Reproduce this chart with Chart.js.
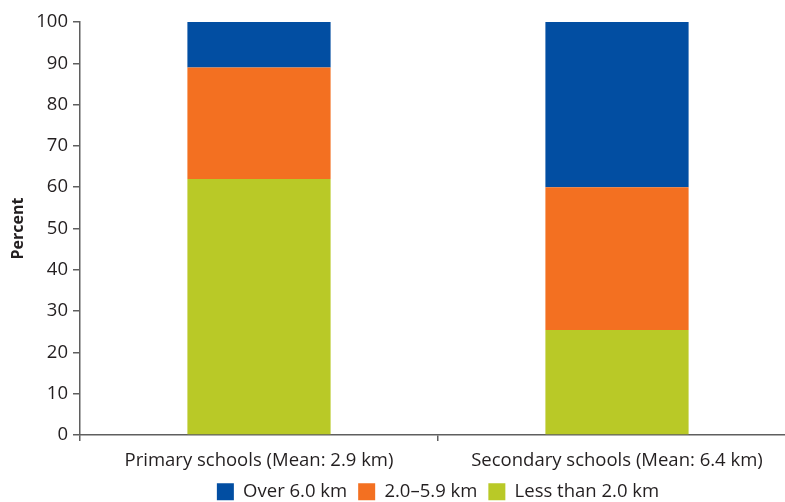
<!DOCTYPE html>
<html>
<head>
<meta charset="utf-8">
<script src="https://cdn.jsdelivr.net/npm/chart.js@4/dist/chart.umd.min.js"></script>
<style>
html,body{margin:0;padding:0;background:#fff;overflow:hidden;width:785px;height:502px;}
#wrap{position:relative;width:798px;height:502px;}
</style>
</head>
<body>
<div id="wrap"><canvas id="c" width="798" height="502"></canvas></div>
<script>
const categories = ["Primary schools (Mean: 2.9 km)", "Secondary schools (Mean: 6.4 km)"];
const lessThan2 = [62, 25.4];
const from2to59 = [27, 34.6];
const over6 = [11, 40];
const yTicks = [0, 10, 20, 30, 40, 50, 60, 70, 80, 90, 100];

const FONT = "'Open Sans', 'Noto Sans', sans-serif";
const TXT = "#231f20";
const AX = "#5f5f5f";

// center the legend under the plot area rather than the whole canvas
const legendShift = {
  id: 'legendShift',
  afterLayout(chart) {
    if (chart.legend) {
      chart.legend.left = chart.chartArea.left - 2;
      chart.legend.right = chart.width;
    }
  }
};

new Chart(document.getElementById('c'), {
  type: 'bar',
  data: {
    labels: categories,
    datasets: [
      { label: 'Less than 2.0 km', data: lessThan2, backgroundColor: '#B9C927', borderWidth: 0 },
      { label: '2.0\u20135.9 km', data: from2to59, backgroundColor: '#F37021', borderWidth: 0 },
      { label: 'Over 6.0 km', data: over6, backgroundColor: '#024EA2', borderWidth: 0 }
    ]
  },
  plugins: [legendShift],
  options: {
    responsive: false,
    animation: false,
    layout: { padding: { top: 22, right: 2, left: 0, bottom: -9 } },
    datasets: { bar: { barPercentage: 0.4, categoryPercentage: 1.0 } },
    plugins: {
      tooltip: { enabled: false },
      legend: {
        position: 'bottom',
        reverse: true,
        labels: {
          boxWidth: 17, boxHeight: 17, padding: 11,
          color: TXT,
          font: { family: FONT, size: 18.5 }
        }
      }
    },
    scales: {
      x: {
        stacked: true,
        offset: true,
        border: { display: true, color: AX, width: 1.5 },
        grid: { display: true, offset: true, drawOnChartArea: false, drawTicks: true, tickLength: 6, color: AX, lineWidth: 1.5 },
        ticks: { color: TXT, font: { family: FONT, size: 18.5 }, padding: 9, maxRotation: 0 },
        afterFit: s => { s.height = 36.5; }
      },
      y: {
        stacked: true,
        min: 0, max: 100,
        afterBuildTicks: s => { s.ticks = yTicks.map(v => ({ value: v })); },
        border: { display: true, color: AX, width: 1.5 },
        grid: { display: true, drawOnChartArea: false, drawTicks: true, tickLength: 7, color: AX, lineWidth: 1.5 },
        ticks: { color: TXT, font: { family: FONT, size: 18.5 }, padding: 5 },
        title: { display: true, text: 'Percent', color: TXT, font: { family: FONT, size: 16, weight: 'bold' }, padding: { top: 9, bottom: 2 } },
        afterFit: s => { s.width = 80; }
      }
    }
  }
});
</script>
</body>
</html>
